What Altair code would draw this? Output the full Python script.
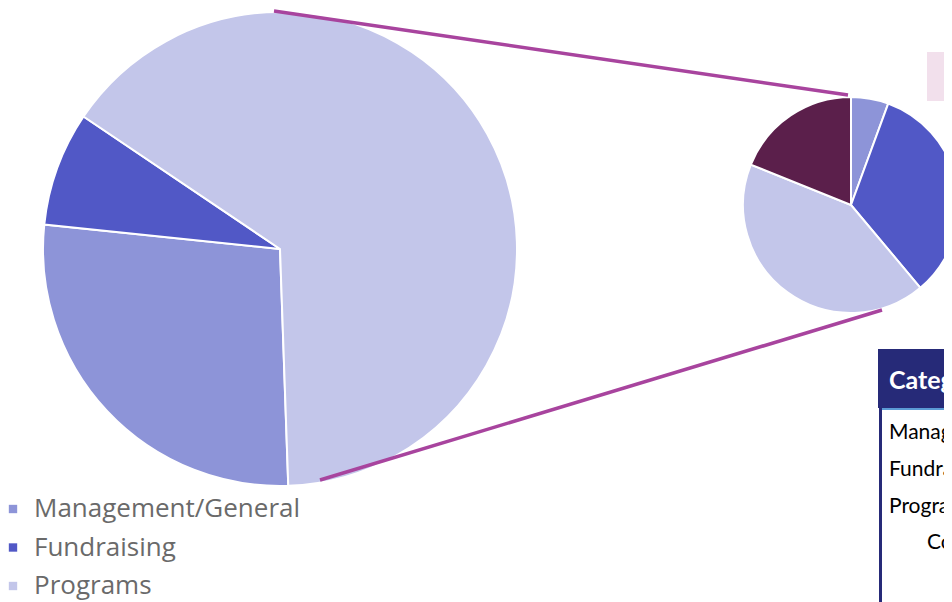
import math
import altair as alt
import pandas as pd

# ---- data ----
categories = ["Management/General", "Fundraising", "Programs", "Other"]
colors = ["#8D94D8", "#5158C6", "#C3C6EA", "#5B1F4B"]
big_values = [27.2, 7.8, 65.0]          # big pie (%)
small_values = [5.6, 33.3, 42.2, 18.9]  # small pie (%)
legend_labels = ["Management/General", "Fundraising", "Programs"]
table_header = ["Category"]
table_rows = ["Management/General", "Fundraising", "Programs"]
table_extra = ["Combined Total"]

big_df = pd.DataFrame({"category": categories[:3], "value": big_values, "idx": [0, 1, 2]})
small_df = pd.DataFrame({"category": categories, "value": small_values, "idx": [0, 1, 2, 3]})
one = pd.DataFrame({"a": [0]})

legend = alt.Legend(
    values=legend_labels, orient="none", legendX=-8, legendY=488, title=None,
    symbolType="square", symbolSize=70, symbolStrokeWidth=0,
    labelFont="Open Sans", labelFontSize=26, labelColor="#6A6A6A",
    labelOffset=8, rowPadding=12.5, padding=0, labelLimit=500,
)
color = alt.Color("category:N", scale=alt.Scale(domain=categories, range=colors), legend=legend)

big_start = math.radians(178)
big = alt.Chart(big_df).mark_arc(outerRadius=237, stroke="white", strokeWidth=2).encode(
    theta=alt.Theta("value:Q", stack=True, scale=alt.Scale(range=[big_start, big_start + 2 * math.pi])),
    color=color,
    order=alt.Order("idx:Q"),
    x=alt.value(272), y=alt.value(241),
)

small = alt.Chart(small_df).mark_arc(outerRadius=108, stroke="white", strokeWidth=2).encode(
    theta=alt.Theta("value:Q", stack=True, scale=alt.Scale(range=[0, 2 * math.pi])),
    color=color,
    order=alt.Order("idx:Q"),
    x=alt.value(843), y=alt.value(197),
)

line_color = "#A8449E"
line1 = alt.Chart(one).mark_rule(color=line_color, strokeWidth=3.5).encode(
    x=alt.value(266), y=alt.value(3), x2=alt.value(840), y2=alt.value(87))
line2 = alt.Chart(one).mark_rule(color=line_color, strokeWidth=3.5).encode(
    x=alt.value(312), y=alt.value(472), x2=alt.value(874), y2=alt.value(302))

pink = alt.Chart(one).mark_rect(color="#F2E0EC").encode(
    x=alt.value(919), x2=alt.value(980), y=alt.value(44), y2=alt.value(93))

header_box = alt.Chart(one).mark_rect(color="#262A78").encode(
    x=alt.value(870), x2=alt.value(990), y=alt.value(341), y2=alt.value(400))
header_line = alt.Chart(one).mark_rect(color="#5B9BD5").encode(
    x=alt.value(873), x2=alt.value(990), y=alt.value(400), y2=alt.value(402))
left_border = alt.Chart(one).mark_rect(color="#262A78").encode(
    x=alt.value(871), x2=alt.value(874), y=alt.value(400), y2=alt.value(600))

header_text = alt.Chart(pd.DataFrame({"t": table_header})).mark_text(
    font="Lato", fontSize=25, fontWeight="bold", color="white", align="left", baseline="middle"
).encode(text="t:N", x=alt.value(881), y=alt.value(373))

rows_df = pd.DataFrame({"t": table_rows, "i": list(range(len(table_rows)))})
row_text = alt.Chart(rows_df).mark_text(
    font="Lato", fontSize=21, color="black", align="left", baseline="middle"
).transform_calculate(yy="425 + datum.i * 37").encode(
    text="t:N", x=alt.value(881), y=alt.Y("yy:Q", scale=None))

extra_text = alt.Chart(pd.DataFrame({"t": table_extra})).mark_text(
    font="Lato", fontSize=21, color="black", align="left", baseline="middle"
).encode(text="t:N", x=alt.value(919), y=alt.value(535))

chart = alt.layer(
    big, small, line1, line2, pink, header_box, header_line, left_border,
    header_text, row_text, extra_text
).resolve_scale(theta="independent").properties(
    width=936, height=594, autosize="none", padding=0, background="white"
).configure_view(stroke=None)

chart.save("out.html", embed_options={"renderer": "svg", "actions": False})
